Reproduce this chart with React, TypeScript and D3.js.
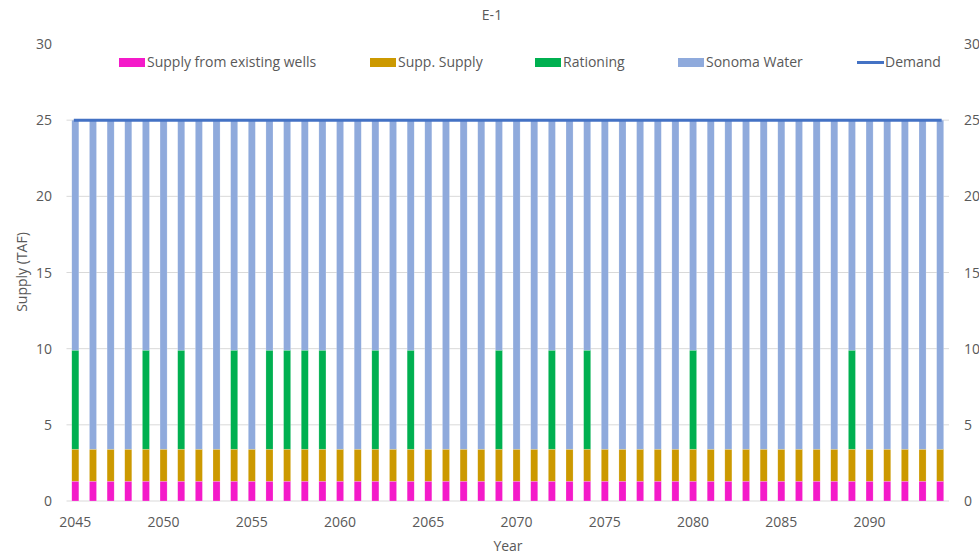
import React from "react";
import * as d3 from "d3";

const years: number[] = d3.range(2045, 2095);
const rationingYears: number[] = [2045, 2049, 2051, 2054, 2056, 2057, 2058, 2059, 2062, 2064, 2069, 2072, 2074, 2080, 2089];
const wells: number[] = years.map(() => 1.3);
const suppSupply: number[] = years.map(() => 2.1);
const rationing: number[] = years.map((y) => (rationingYears.includes(y) ? 6.5 : 0));
const sonoma: number[] = years.map((y) => (rationingYears.includes(y) ? 15.1 : 21.6));
const demand: number[] = years.map(() => 25);
const yTicks: number[] = [0, 5, 10, 15, 20, 25, 30];
const xTickYears: number[] = [2045, 2050, 2055, 2060, 2065, 2070, 2075, 2080, 2085, 2090];

const seriesNames = ["Supply from existing wells", "Supp. Supply", "Rationing", "Sonoma Water"];
const seriesColors = ["#f41ac9", "#cc9900", "#00b050", "#8faadc"];
const demandColor = "#4472c4";

const W = 979;
const H = 559;
const FONT = "'Open Sans', 'Liberation Sans', sans-serif";
const TEXT = "#595959";

export default function App() {
  const x = d3.scaleBand<number>().domain(years).range([66.5, 949]).paddingInner(0.6).paddingOuter(0.3);
  const y = d3.scaleLinear().domain([0, 30]).range([501, 44]);

  const rows = years.map((yr, i) => ({
    year: yr,
    s0: wells[i],
    s1: suppSupply[i],
    s2: rationing[i],
    s3: sonoma[i],
  }));
  const stack = d3.stack<any>().keys(["s0", "s1", "s2", "s3"]);
  const layers = stack(rows);

  const line = d3
    .line<number>()
    .x((_, i) => (x(years[i]) as number) + x.bandwidth() / 2)
    .y((d) => y(d));

  const legend = [
    { label: seriesNames[0], color: seriesColors[0], sx: 119, tx: 147 },
    { label: seriesNames[1], color: seriesColors[1], sx: 370, tx: 398 },
    { label: seriesNames[2], color: seriesColors[2], sx: 535, tx: 563 },
    { label: seriesNames[3], color: seriesColors[3], sx: 678, tx: 706 },
  ];

  return (
    <svg width={W} height={H} style={{ position: "absolute", left: 0, top: 0, background: "#fff" }} fontFamily={FONT}>
      <rect width={W} height={H} fill="#fff" />
      <text x={492} y={20} textAnchor="middle" fontSize={14} fill={TEXT}>E-1</text>
      {yTicks.filter((t) => t < 30).map((t) => (
        <line key={"g" + t} x1={66.5} x2={949} y1={y(t)} y2={y(t)} stroke="#d9d9d9" strokeWidth={1} />
      ))}
      {yTicks.map((t) => (
        <text key={"l" + t} x={52} y={y(t) + 5} textAnchor="end" fontSize={14} fill={TEXT}>{t}</text>
      ))}
      {yTicks.map((t) => (
        <text key={"r" + t} x={964} y={y(t) + 5} textAnchor="start" fontSize={14} fill={TEXT}>{t}</text>
      ))}
      {layers.map((layer, li) =>
        layer.map((d, i) => {
          const h = y(d[0]) - y(d[1]);
          if (h <= 0) return null;
          return (
            <rect
              key={li + "-" + i}
              x={x(years[i]) as number}
              y={y(d[1])}
              width={x.bandwidth()}
              height={h}
              fill={seriesColors[li]}
              stroke="#ffffff"
              strokeOpacity={0.4}
              strokeWidth={0.5}
            />
          );
        })
      )}
      <path d={line(demand) || ""} fill="none" stroke={demandColor} strokeWidth={3} strokeLinecap="square" />
      {xTickYears.map((yr) => (
        <text key={"x" + yr} x={(x(yr) as number) + x.bandwidth() / 2} y={527} textAnchor="middle" fontSize={14} fill={TEXT}>{yr}</text>
      ))}
      <text x={508} y={551} textAnchor="middle" fontSize={14} fill={TEXT}>Year</text>
      <text transform={`translate(27,272) rotate(-90)`} textAnchor="middle" fontSize={14} fill={TEXT}>Supply (TAF)</text>
      {legend.map((l) => (
        <g key={l.label}>
          <rect x={l.sx} y={58} width={26} height={9} fill={l.color} />
          <text x={l.tx} y={67} fontSize={14} fill={TEXT}>{l.label}</text>
        </g>
      ))}
      <line x1={857} x2={884} y1={62.5} y2={62.5} stroke={demandColor} strokeWidth={3} />
      <text x={885} y={67} fontSize={14} fill={TEXT}>Demand</text>
    </svg>
  );
}
